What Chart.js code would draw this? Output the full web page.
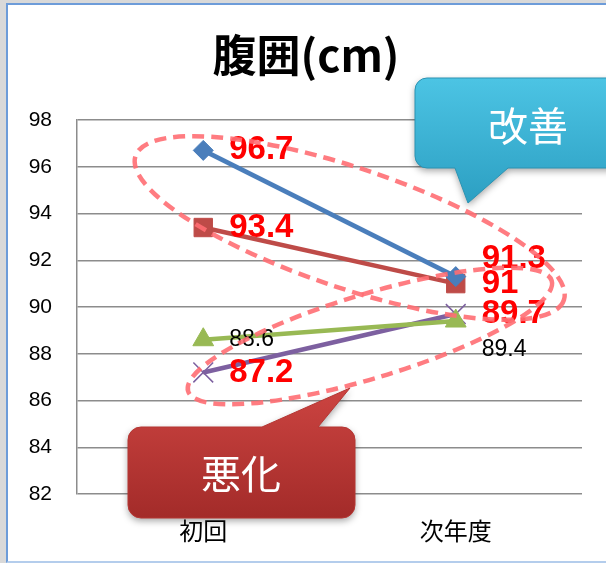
<!DOCTYPE html>
<html>
<head>
<meta charset="utf-8">
<script src="https://cdn.jsdelivr.net/npm/chart.js@4/dist/chart.umd.min.js"></script>
<style>
  html, body { margin: 0; padding: 0; background: #d9d9d9; overflow: hidden; }
  #frame {
    position: absolute; left: 6px; top: 3px; width: 700px; height: 556px;
    background: #fff;
    border-left: 2px solid #6d9cd9; border-top: 2px solid #6d9cd9; border-bottom: 2px solid #b4cdec;
  }
  #waist { position: absolute; left: 0; top: 0; }
</style>
</head>
<body>
<div id="frame"></div>
<canvas id="waist" width="606" height="563"></canvas>
<script>
// chart data
const categories = ['初回', '次年度'];
const blueValues = [96.7, 91.3];
const redValues = [93.4, 91];
const greenValues = [88.6, 89.4];
const purpleValues = [87.2, 89.7];
const yTicks = [82, 84, 86, 88, 90, 92, 94, 96, 98];
const chartTitle = '腹囲(cm)';
const improvedText = '改善';
const worsenedText = '悪化';

const JP = '"Noto Sans CJK JP", "Noto Sans CJK SC", sans-serif';

// value labels: series 0,1,3 bold red, series 2 plain black
const dataLabels = {
    id: 'dataLabels',
    afterDatasetsDraw(chart) {
        const ctx = chart.ctx;
        const shift = { '0-1': -18, '2-1': 29 };
        ctx.save();
        ctx.textAlign = 'left';
        ctx.textBaseline = 'middle';
        chart.data.datasets.forEach((ds, i) => {
            const meta = chart.getDatasetMeta(i);
            meta.data.forEach((pt, j) => {
                const plain = i === 2;
                ctx.font = plain ? '23px "Liberation Sans", Arial' : 'bold 33px "Liberation Sans", Arial';
                ctx.fillStyle = plain ? '#000' : '#ff0000';
                ctx.fillText(String(ds.data[j]), pt.x + 26, pt.y + (shift[i + '-' + j] || 0));
            });
        });
        ctx.restore();
    }
};

function calloutPath(ctx, x, y, w, h, r, tail) {
    ctx.beginPath();
    ctx.moveTo(x + r, y);
    if (tail.side === 'top') {
        ctx.lineTo(tail.x1, y);
        ctx.lineTo(tail.tipX, tail.tipY);
        ctx.lineTo(tail.x2, y);
    }
    ctx.arcTo(x + w, y, x + w, y + h, r);
    ctx.arcTo(x + w, y + h, x, y + h, r);
    if (tail.side === 'bottom') {
        ctx.lineTo(tail.x2, y + h);
        ctx.lineTo(tail.tipX, tail.tipY);
        ctx.lineTo(tail.x1, y + h);
    }
    ctx.arcTo(x, y + h, x, y, r);
    ctx.arcTo(x, y, x + w, y, r);
    ctx.closePath();
}

// dashed ellipses, speech bubbles and title
const decorations = {
    id: 'decorations',
    afterDraw(chart) {
        const ctx = chart.ctx;
        const xs = chart.scales.x, ys = chart.scales.y;

        ctx.save();
        ctx.strokeStyle = 'rgba(255, 110, 115, 0.9)';
        ctx.lineWidth = 4.5;
        ctx.setLineDash([12, 7]);
        [
            { cx: 0.58, cy: 93.38, rx: 226, ry: 60, rot: 18.6 },
            { cx: 0.66, cy: 88.76, rx: 190, ry: 42, rot: -16.9 }
        ].forEach(e => {
            ctx.beginPath();
            ctx.ellipse(xs.getPixelForValue(e.cx), ys.getPixelForValue(e.cy), e.rx, e.ry, e.rot * Math.PI / 180, 0, Math.PI * 2);
            ctx.stroke();
        });
        ctx.restore();

        const bubbles = [
            { x: 415, y: 78, w: 260, h: 90, r: 12, top: '#4cc4e4', bottom: '#2c9fc2', edge: '#2a93b3',
              tail: { side: 'bottom', x1: 455, x2: 508, tipX: 468, tipY: 203 },
              text: improvedText, tx: 528, ty: 126 },
            { x: 128, y: 427, w: 227, h: 91, r: 13, top: '#cc4441', bottom: '#a32b29', edge: '#b53633',
              tail: { side: 'top', x1: 262, x2: 318, tipX: 350, tipY: 388 },
              text: worsenedText, tx: 241, ty: 474 }
        ];
        bubbles.forEach(b => {
            ctx.save();
            const g = ctx.createLinearGradient(0, Math.min(b.y, b.tail.tipY), 0, Math.max(b.y + b.h, b.tail.tipY));
            g.addColorStop(0, b.top);
            g.addColorStop(1, b.bottom);
            ctx.shadowColor = 'rgba(0,0,0,0.35)';
            ctx.shadowBlur = 7;
            ctx.shadowOffsetY = 3;
            calloutPath(ctx, b.x, b.y, b.w, b.h, b.r, b.tail);
            ctx.fillStyle = g;
            ctx.fill();
            ctx.shadowColor = 'transparent';
            ctx.strokeStyle = b.edge;
            ctx.lineWidth = 1;
            ctx.stroke();
            ctx.fillStyle = '#fff';
            ctx.font = '40px ' + JP;
            ctx.textAlign = 'center';
            ctx.textBaseline = 'middle';
            ctx.fillText(b.text, b.tx, b.ty);
            ctx.restore();
        });

        ctx.save();
        ctx.fillStyle = '#000';
        ctx.font = 'bold 44px ' + JP;
        ctx.textAlign = 'center';
        ctx.textBaseline = 'middle';
        ctx.fillText(chartTitle, 306, 55);
        ctx.restore();
    }
};

const ctx = document.getElementById('waist').getContext('2d');

new Chart(ctx, {
    type: 'line',
    data: {
        labels: categories,
        datasets: [
            { data: blueValues, borderColor: '#4a7ebb', backgroundColor: '#4a7ebb', pointStyle: 'rectRot', pointRadius: 10 },
            { data: redValues, borderColor: '#be4b48', backgroundColor: '#be4b48', pointStyle: 'rect', pointRadius: 13 },
            { data: greenValues, borderColor: '#98b954', backgroundColor: '#98b954', pointStyle: 'triangle', pointRadius: 12 },
            { data: purpleValues, borderColor: '#7d60a0', backgroundColor: '#7d60a0', pointStyle: 'crossRot', pointRadius: 14, pointBorderWidth: 1.5 }
        ]
    },
    options: {
        responsive: false,
        animation: false,
        devicePixelRatio: 1,
        events: [],
        elements: {
            line: { borderWidth: 4.5, tension: 0 }
        },
        layout: { padding: { left: 0, right: 24, top: 120, bottom: 0 } },
        plugins: {
            legend: { display: false },
            title: { display: false },
            tooltip: { enabled: false }
        },
        scales: {
            x: {
                offset: true,
                grid: { display: false, drawTicks: false },
                border: { display: false },
                ticks: { padding: 22, color: '#000', font: { family: JP, size: 24 } },
                afterFit: s => { s.height = 69; }
            },
            y: {
                min: yTicks[0],
                max: yTicks[yTicks.length - 1],
                ticks: { stepSize: yTicks[1] - yTicks[0], padding: 25, color: '#000', font: { family: '"Liberation Sans", Arial', size: 21 } },
                grid: { color: '#8c8c8c', lineWidth: 1.5, drawTicks: false },
                border: { display: true, color: '#8c8c8c', width: 1.5 },
                afterFit: s => { s.width = 77; }
            }
        }
    },
    plugins: [dataLabels, decorations]
});
</script>
</body>
</html>
